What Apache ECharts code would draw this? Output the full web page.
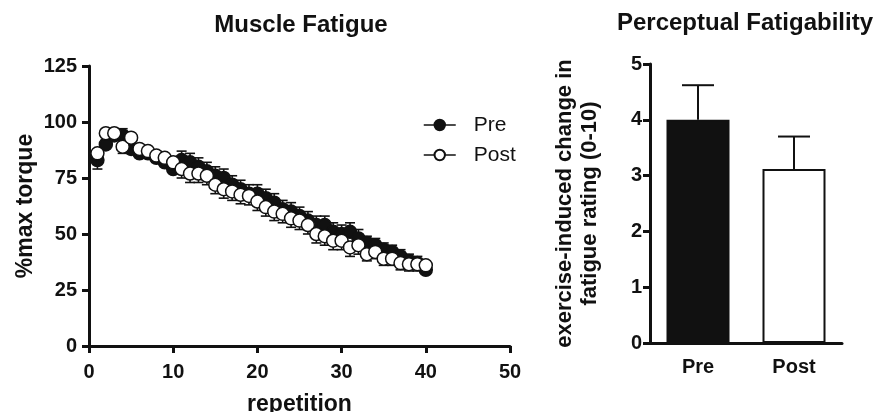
<!DOCTYPE html>
<html>
<head>
<meta charset="utf-8">
<script src="https://cdn.jsdelivr.net/npm/echarts@6/dist/echarts.min.js"></script>
<style>html,body{margin:0;padding:0;background:#fff}#c{width:878px;height:412px}</style>
</head>
<body>
<div id="c"></div>
<script>
var repetitions = [1,2,3,4,5,6,7,8,9,10,11,12,13,14,15,16,17,18,19,20,21,22,23,24,25,26,27,28,29,30,31,32,33,34,35,36,37,38,39,40];
var preTorque = [83,90,94,94,88,86,86,84,82,79,83,82,80,78,76,75,72,70,68,68,66,64,61,60,58,56,54,54,51,50,51,48,46,45,43,42,40,38,37,34];
var postTorque = [86,95,95,89,93,88,87,85,84,82,79,77,77,76,72,70,69,67.5,67,64.5,62,60,59,57,56,54,50,49,47,47,44,45,41,42,39,39,37,36.5,36.5,36];
var preTorqueErr = [3,3,3,3,3,3,3,3,3,3,4,4,4,4,4,4,4,4,4,4,4,4,4,4,4,4,4,4,4,4,4,4,3,3,3,3,3,3,3,3];
var postTorqueErr = [7,3,3,3,3,3,3,3,3,4,4,4,4,4,4,4,4,4,4,4,4,4,4,4,4,4,4,4,4,4,4,4,3,3,3,3,3,3,3,3];
var barCategories = ['Pre','Post'];
var fatigueRating = [4.0, 3.12];
var fatigueRatingErr = [0.62, 0.58];
var pText = 'P=0.06';
var pTextValue = 4.07;

var FONT = '"Liberation Sans", Arial, Helvetica, sans-serif';
var INK = '#111';

function pairs(xs, ys){ return xs.map(function(x,i){ return [x, ys[i]]; }); }
function errData(xs, ys, es, dir){ return xs.map(function(x,i){ return [x, ys[i], ys[i] + dir*es[i]]; }); }

function errRender(capHalf){
  return function(params, api){
    var p0 = api.coord([api.value(0), api.value(1)]);
    var p1 = api.coord([api.value(0), api.value(2)]);
    return {
      type: 'group',
      children: [
        {type:'line', shape:{x1:p0[0], y1:p0[1], x2:p1[0], y2:p1[1]}, style:{stroke:INK, lineWidth:1.6}},
        {type:'line', shape:{x1:p1[0]-capHalf, y1:p1[1], x2:p1[0]+capHalf, y2:p1[1]}, style:{stroke:INK, lineWidth:1.6}}
      ]
    };
  };
}

var chart = echarts.init(document.getElementById('c'));
var axisText = {color: INK, fontFamily: FONT, fontWeight: 'bold', fontSize: 20};
var nameText = {color: INK, fontFamily: FONT, fontWeight: 'bold', fontSize: 23, lineHeight: 25};

chart.setOption({
  animation: false,
  backgroundColor: '#fff',
  graphic: [
    {type:'text', x: 301, y: 25, style:{text:'Muscle Fatigue', font:'bold 24px ' + FONT, fill: INK, textAlign:'center', textVerticalAlign:'middle', verticalAlign:'middle'}},
    {type:'text', x: 745, y: 23, style:{text:'Perceptual Fatigability', font:'bold 24px ' + FONT, fill: INK, textAlign:'center', textVerticalAlign:'middle', verticalAlign:'middle'}}
  ],
  legend: {
    left: 418, top: 109, orient: 'vertical', itemGap: 8, itemWidth: 32, itemHeight: 13,
    data: ['Pre','Post'],
    textStyle: {color: INK, fontFamily: FONT, fontSize: 21, lineHeight: 22, padding: [0,0,0,13]},
    lineStyle: {color: INK, width: 1.5, opacity: 1}
  },
  grid: [
    {left: 89, top: 66, width: 421, height: 280, containLabel: false, outerBoundsMode: 'none'},
    {left: 650, top: 64, width: 192, height: 279, containLabel: false, outerBoundsMode: 'none'}
  ],
  xAxis: [
    {gridIndex: 0, type: 'value', min: 0, max: 50, interval: 10,
      name: 'repetition', nameLocation: 'middle', nameGap: 46, nameTextStyle: nameText,
      axisLine: {show: true, lineStyle: {color: INK, width: 3}},
      axisTick: {show: true, length: 7, lineStyle: {color: INK, width: 3}},
      axisLabel: Object.assign({margin: 16}, axisText),
      splitLine: {show: false}},
    {gridIndex: 1, type: 'category', data: barCategories,
      axisLine: {show: true, lineStyle: {color: INK, width: 3}},
      axisTick: {show: false},
      axisLabel: Object.assign({margin: 14}, axisText),
      splitLine: {show: false}}
  ],
  yAxis: [
    {gridIndex: 0, type: 'value', min: 0, max: 125, interval: 25,
      name: '%max torque', nameLocation: 'middle', nameGap: 51, nameRotate: 90, nameTextStyle: nameText,
      axisLine: {show: true, lineStyle: {color: INK, width: 3}},
      axisTick: {show: true, length: 7, lineStyle: {color: INK, width: 3}},
      axisLabel: Object.assign({margin: 12}, axisText),
      splitLine: {show: false}},
    {gridIndex: 1, type: 'value', min: 0, max: 5, interval: 1,
      name: 'exercise-induced change in\nfatigue rating (0-10)', nameLocation: 'middle', nameGap: 48, nameRotate: 90,
      nameTextStyle: {color: INK, fontFamily: FONT, fontWeight: 'bold', fontSize: 22, lineHeight: 25},
      axisLine: {show: true, lineStyle: {color: INK, width: 3}},
      axisTick: {show: true, length: 7, lineStyle: {color: INK, width: 3}},
      axisLabel: Object.assign({margin: 8}, axisText),
      splitLine: {show: false}}
  ],
  series: [
    {type: 'custom', xAxisIndex: 0, yAxisIndex: 0, z: 1, renderItem: errRender(5),
      data: errData(repetitions, preTorque, preTorqueErr, 1), silent: true},
    {name: 'Pre', type: 'line', xAxisIndex: 0, yAxisIndex: 0, z: 2,
      data: pairs(repetitions, preTorque), symbol: 'circle', symbolSize: 13,
      lineStyle: {opacity: 0, width: 0},
      itemStyle: {color: INK, borderColor: INK, borderWidth: 1.5}},
    {type: 'custom', xAxisIndex: 0, yAxisIndex: 0, z: 3, renderItem: errRender(5),
      data: errData(repetitions, postTorque, postTorqueErr, -1), silent: true},
    {name: 'Post', type: 'line', xAxisIndex: 0, yAxisIndex: 0, z: 4,
      data: pairs(repetitions, postTorque), symbol: 'circle', symbolSize: 13,
      lineStyle: {opacity: 0, width: 0},
      itemStyle: {color: '#fff', borderColor: INK, borderWidth: 1.5}},
    {type: 'custom', xAxisIndex: 1, yAxisIndex: 1, z: 1,
      renderItem: function(params, api){
        var p0 = api.coord([api.value(0), api.value(1)]);
        var p1 = api.coord([api.value(0), api.value(2)]);
        return {type:'group', children:[
          {type:'line', shape:{x1:p0[0], y1:p0[1], x2:p1[0], y2:p1[1]}, style:{stroke:INK, lineWidth:2}},
          {type:'line', shape:{x1:p1[0]-16, y1:p1[1], x2:p1[0]+16, y2:p1[1]}, style:{stroke:INK, lineWidth:2}}
        ]};
      },
      data: barCategories.map(function(c,i){ return [i, fatigueRating[i], fatigueRating[i] + fatigueRatingErr[i]]; })},
    {type: 'bar', xAxisIndex: 1, yAxisIndex: 1, z: 2, barWidth: 63,
      data: fatigueRating.map(function(v,i){ return {value: v, itemStyle: {color: i === 0 ? INK : '#fff'}}; }),
      itemStyle: {borderColor: INK, borderWidth: 2}},
    {type: 'scatter', xAxisIndex: 1, yAxisIndex: 1, z: 3, symbolSize: 1, itemStyle: {opacity: 0},
      data: [['Post', pTextValue]],
      label: {show: true, position: 'inside', formatter: pText, color: INK, fontFamily: FONT, fontWeight: 'bold', fontSize: 22}}
  ]
});
</script>
</body>
</html>
